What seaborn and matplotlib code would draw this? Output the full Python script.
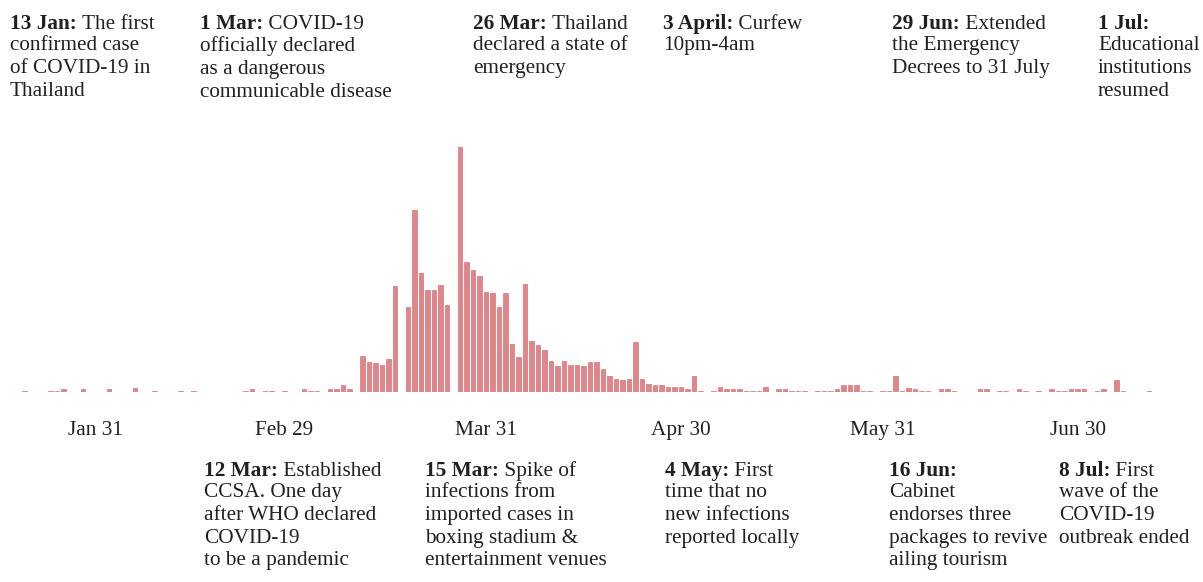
import matplotlib
matplotlib.use("Agg")
import matplotlib.pyplot as plt
import pandas as pd
import seaborn as sns

# daily new cases, 20 Jan - 12 Jul 2020 (one row = one week)
start_date = "2020-01-20"
cases = [
    1, 0, 0, 0, 1, 1, 2,
    0, 0, 2, 0, 0, 0, 2,
    0, 0, 0, 3, 0, 0, 1,
    0, 0, 0, 1, 0, 1, 0,
    0, 0, 0, 0, 0, 0, 1,
    2, 0, 1, 1, 0, 1, 0,
    0, 2, 1, 1, 0, 2, 2,
    5, 2, 0, 28, 23, 22, 21,
    25, 81, 0, 65, 140, 91, 78,
    78, 82, 67, 0, 188, 100, 94,
    89, 77, 76, 65, 76, 37, 27,
    83, 39, 36, 32, 24, 20, 24,
    21, 21, 20, 23, 23, 18, 12,
    10, 9, 10, 38, 10, 6, 5,
    5, 4, 4, 4, 2, 12, 1,
    0, 1, 4, 2, 2, 2, 1,
    1, 1, 4, 0, 2, 2, 1,
    1, 1, 0, 1, 1, 1, 2,
    5, 5, 5, 1, 1, 0, 1,
    1, 12, 1, 3, 2, 1, 1,
    0, 2, 2, 1, 0, 0, 0,
    2, 2, 0, 1, 1, 0, 2,
    1, 0, 1, 0, 2, 1, 1,
    2, 2, 2, 0, 1, 2, 0,
    9, 1, 0, 0, 0, 1,
]
tick_dates = ["2020-01-31", "2020-02-29", "2020-03-31", "2020-04-30", "2020-05-31", "2020-06-30"]
tick_labels = ["Jan 31", "Feb 29", "Mar 31", "Apr 30", "May 31", "Jun 30"]

top_notes = [
    ("13 Jan:", "The first", "confirmed case\nof COVID-19 in\nThailand"),
    ("1 Mar:", "COVID-19", "officially declared\nas a dangerous\ncommunicable disease"),
    ("26 Mar:", "Thailand", "declared a state of\nemergency"),
    ("3 April:", "Curfew", "10pm-4am"),
    ("29 Jun:", "Extended", "the Emergency\nDecrees to 31 July"),
    ("1 Jul:", "", "Educational\ninstitutions\nresumed"),
]
bottom_notes = [
    ("12 Mar:", "Established", "CCSA. One day\nafter WHO declared\nCOVID-19\nto be a pandemic"),
    ("15 Mar:", "Spike of", "infections from\nimported cases in\nboxing stadium &\nentertainment venues"),
    ("4 May:", "First", "time that no\nnew infections\nreported locally"),
    ("16 Jun:", "", "Cabinet\nendorses three\npackages to revive\nailing tourism"),
    ("8 Jul:", "First", "wave of the\nCOVID-19\noutbreak ended"),
]
top_x = [10, 200, 473, 663, 892, 1098]
bottom_x = [204, 425, 665, 889, 1059]

W, H = 1203, 582
sns.set_theme(style="white")
plt.rcParams["font.family"] = ["Liberation Serif", "DejaVu Serif"]
FS = 15.3
LS = 1.263
DY = 22.3   # line step in pixels
INK = "#231f20"

days = pd.date_range(start_date, periods=len(cases), freq="D")
df = pd.DataFrame({"day": days.strftime("%Y-%m-%d"), "cases": cases})

fig = plt.figure(figsize=(W / 100, H / 100), dpi=100)
ax = fig.add_axes([0, 190 / H, 1, 252 / H])
sns.barplot(data=df, x="day", y="cases", ax=ax, width=0.75, color="#e0868b",
            saturation=1, edgecolor="#d4737a", linewidth=0.5)

# 6.5 px per day, first bar at 24.5 px
ax.set_xlim(-24.5 / 6.5, (W - 24.5) / 6.5)
ax.set_ylim(0, 188 * 252 / 245)
pos = [df.index[df["day"] == d][0] for d in tick_dates]
ax.set_xticks(pos)
ax.set_xticklabels(tick_labels, fontsize=FS, color=INK)
ax.tick_params(axis="x", length=0, pad=21)
ax.set_yticks([])
ax.set_xlabel("")
ax.set_ylabel("")
sns.despine(ax=ax, left=True, bottom=True)


def note(x, y, head, first, rest):
    t = fig.text(x / W, 1 - y / H, head, fontweight="bold", fontsize=FS,
                 color=INK, va="top", ha="left")
    if first:
        ax.annotate(" " + first, xy=(1, 0), xycoords=t, va="bottom", ha="left",
                    fontsize=FS, color=INK, annotation_clip=False)
    fig.text(x / W, 1 - (y + DY) / H, rest, fontsize=FS, color=INK,
             va="top", ha="left", linespacing=LS)


for x, (head, first, rest) in zip(top_x, top_notes):
    note(x, 14, head, first, rest)
for x, (head, first, rest) in zip(bottom_x, bottom_notes):
    note(x, 461, head, first, rest)

fig.savefig("out.png", dpi=100, facecolor="white")
